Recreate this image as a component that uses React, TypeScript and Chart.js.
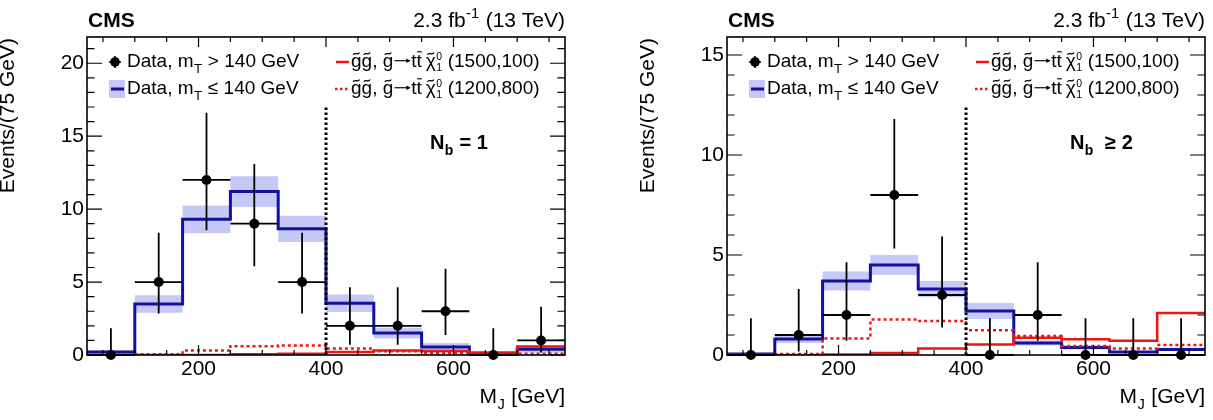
import { useEffect, useRef } from "react";
import { Chart, registerables } from "chart.js";

Chart.register(...registerables);

const FONT = '"Liberation Sans", Arial, Helvetica, sans-serif';
const BLUE = "#12129e";
const BAND = "#c6c8f5";
const RED = "#ee1515";

// M_J binning: 75 GeV bins from 25 to 775 GeV
const binEdges = [25, 100, 175, 250, 325, 400, 475, 550, 625, 700, 775];
const binCenters = [62.5, 137.5, 212.5, 287.5, 362.5, 437.5, 512.5, 587.5, 662.5, 737.5];
const xMajorTicks = [200, 400, 600];
const xMinorTicks = [50, 100, 150, 250, 300, 350, 450, 500, 550, 650, 700, 750];
const xMin = 25;
const xMax = 775;
const mjCut = 400;

// N_b = 1
const nb1Data = [0, 5, 12, 9, 5, 2, 2, 3, 0, 1];
const nb1DataLow = [0, 2.84, 8.56, 6.08, 2.84, 0.71, 0.71, 1.37, 0, 0.17];
const nb1DataHigh = [1.84, 8.38, 16.6, 13.1, 8.38, 4.64, 4.64, 5.92, 1.84, 3.3];
const nb1LowMt = [0.2, 3.5, 9.3, 11.2, 8.65, 3.55, 1.5, 0.55, 0.05, 0.4];
const nb1LowMtUnc = [0.1, 0.6, 0.95, 1.05, 0.9, 0.6, 0.37, 0.28, 0.05, 0.25];
const nb1Sig1500 = [0, 0, 0, 0.05, 0.08, 0.2, 0.3, 0.27, 0.17, 0.58];
const nb1Sig1200 = [0.02, 0.05, 0.3, 0.6, 0.65, 0.45, 0.25, 0.12, 0.05, 0.08];
const nb1YTicks = [0, 5, 10, 15, 20];
const nb1YMax = 21.8;
const nb1CutTop = 17;

// N_b >= 2
const nb2Data = [0, 1, 2, 8, 3, 0, 2, 0, 0, 0];
const nb2DataLow = [0, 0.17, 0.71, 5.32, 1.37, 0, 0.71, 0, 0, 0];
const nb2DataHigh = [1.84, 3.3, 4.64, 11.8, 5.92, 1.84, 4.64, 1.84, 1.84, 1.84];
const nb2LowMt = [0.05, 0.8, 3.7, 4.5, 3.3, 2.2, 0.6, 0.38, 0.15, 0.28];
const nb2LowMtUnc = [0.03, 0.2, 0.47, 0.5, 0.4, 0.4, 0.13, 0.1, 0.05, 0.08];
const nb2Sig1500 = [0, 0, 0.02, 0.1, 0.33, 0.53, 0.86, 0.79, 0.71, 2.1];
const nb2Sig1200 = [0, 0.05, 0.83, 1.77, 1.7, 1.24, 0.95, 0.45, 0.33, 0.5];
const nb2YTicks = [0, 5, 10, 15];
const nb2YMax = 15.9;
const nb2CutTop = 12.4;

type Seg = {
  t?: string;
  sub?: string;
  sup?: string;
  tilde?: boolean;
  bar?: boolean;
  arrow?: boolean;
};

type Panel = {
  data: number[];
  low: number[];
  high: number[];
  lowMt: number[];
  lowMtUnc: number[];
  sig1500: number[];
  sig1200: number[];
  yTicks: number[];
  yMax: number;
  cutTop: number;
  nbLabel: Seg[];
  padRight: number;
};

const fontStr = (size: number, bold: boolean) => `${bold ? "bold " : ""}${size}px ${FONT}`;

function segWidth(ctx: CanvasRenderingContext2D, s: Seg, size: number, bold: boolean) {
  if (s.arrow) return size * 0.95;
  if (s.t !== undefined) {
    ctx.font = fontStr(size, bold);
    return ctx.measureText(s.t).width;
  }
  const small = s.sup !== undefined && s.sub !== undefined ? size * 0.55 : size * 0.7;
  ctx.font = fontStr(small, bold);
  const w1 = s.sup !== undefined ? ctx.measureText(s.sup).width : 0;
  const w2 = s.sub !== undefined ? ctx.measureText(s.sub).width : 0;
  return Math.max(w1, w2) + size * 0.05;
}

function drawRich(
  ctx: CanvasRenderingContext2D,
  x: number,
  y: number,
  segs: Seg[],
  size: number,
  bold = false,
  align: "left" | "right" = "left"
) {
  ctx.save();
  ctx.textAlign = "left";
  ctx.textBaseline = "alphabetic";
  ctx.fillStyle = "#000";
  ctx.strokeStyle = "#000";
  const widths = segs.map((s) => segWidth(ctx, s, size, bold));
  const total = widths.reduce((a, b) => a + b, 0);
  let cx = align === "right" ? x - total : x;
  segs.forEach((s, i) => {
    const w = widths[i];
    if (s.arrow) {
      const ay = y - size * 0.33;
      const x0 = cx + size * 0.06;
      const x1 = cx + w - size * 0.04;
      ctx.lineWidth = size * 0.06;
      ctx.beginPath();
      ctx.moveTo(x0, ay);
      ctx.lineTo(x1 - size * 0.05, ay);
      ctx.stroke();
      ctx.beginPath();
      ctx.moveTo(x1, ay);
      ctx.lineTo(x1 - size * 0.22, ay - size * 0.12);
      ctx.lineTo(x1 - size * 0.22, ay + size * 0.12);
      ctx.closePath();
      ctx.fill();
    } else if (s.t !== undefined) {
      ctx.font = fontStr(size, bold);
      ctx.fillText(s.t, cx, y);
      if (s.tilde) {
        const mid = cx + w / 2;
        const ty = y - size * 0.7;
        const hw = size * 0.17;
        const a = size * 0.06;
        ctx.lineWidth = size * 0.065;
        ctx.beginPath();
        ctx.moveTo(mid - hw, ty + a);
        ctx.bezierCurveTo(mid - hw * 0.5, ty - a * 2.2, mid + hw * 0.5, ty + a * 2.2, mid + hw, ty - a);
        ctx.stroke();
      }
      if (s.bar) {
        const by = y - size * 0.8;
        ctx.lineWidth = size * 0.06;
        ctx.beginPath();
        ctx.moveTo(cx + w * 0.1, by);
        ctx.lineTo(cx + w * 1.0, by);
        ctx.stroke();
      }
    } else if (s.sup !== undefined && s.sub !== undefined) {
      ctx.font = fontStr(size * 0.55, bold);
      ctx.fillText(s.sup, cx + size * 0.03, y - size * 0.36);
      ctx.fillText(s.sub, cx + size * 0.03, y + size * 0.2);
    } else if (s.sup !== undefined) {
      ctx.font = fontStr(size * 0.7, bold);
      ctx.fillText(s.sup, cx + size * 0.02, y - size * 0.42);
    } else if (s.sub !== undefined) {
      ctx.font = fontStr(size * 0.7, bold);
      ctx.fillText(s.sub, cx + size * 0.02, y + size * 0.3);
    }
    cx += w;
  });
  ctx.restore();
}

const signalLabel = (mass: string): Seg[] => [
  { t: "g", tilde: true },
  { t: "g", tilde: true },
  { t: ", " },
  { t: "g", tilde: true },
  { arrow: true },
  { t: "t" },
  { t: "t", bar: true },
  { t: "\u2009" },
  { t: "\u03c7", tilde: true },
  { sup: "0", sub: "1" },
  { t: " " + mass },
];

const stepPoints = (vals: number[]) =>
  binEdges.map((x, i) => ({ x, y: vals[Math.min(i, vals.length - 1)] }));

function buildChart(canvas: HTMLCanvasElement, p: Panel) {
  const bandHi = p.lowMt.map((v, i) => v + p.lowMtUnc[i]);
  const bandLo = p.lowMt.map((v, i) => Math.max(0, v - p.lowMtUnc[i]));

  const decor = {
    id: "hepDecor",
    afterDatasetDraw(chart: any, args: any) {
      if (args.index !== 1) return;
      const ctx: CanvasRenderingContext2D = chart.ctx;
      const xs = chart.scales.x;
      const ys = chart.scales.y;
      ctx.save();
      // selection line at M_J = 400 GeV
      ctx.strokeStyle = "#000";
      ctx.lineWidth = 3;
      ctx.setLineDash([2.5, 2.5]);
      ctx.beginPath();
      ctx.moveTo(xs.getPixelForValue(mjCut), ys.getPixelForValue(0));
      ctx.lineTo(xs.getPixelForValue(mjCut), ys.getPixelForValue(p.cutTop));
      ctx.stroke();
      ctx.setLineDash([]);
      // data error bars
      ctx.lineWidth = 1.8;
      p.data.forEach((v, i) => {
        const px = xs.getPixelForValue(binCenters[i]);
        const py = ys.getPixelForValue(v);
        ctx.beginPath();
        ctx.moveTo(px, ys.getPixelForValue(p.low[i]));
        ctx.lineTo(px, ys.getPixelForValue(p.high[i]));
        ctx.moveTo(xs.getPixelForValue(binEdges[i]), py);
        ctx.lineTo(xs.getPixelForValue(binEdges[i + 1]), py);
        ctx.stroke();
      });
      ctx.restore();
    },
    afterDraw(chart: any) {
      const ctx: CanvasRenderingContext2D = chart.ctx;
      const a = chart.chartArea;
      const xs = chart.scales.x;
      const ys = chart.scales.y;
      ctx.save();
      ctx.strokeStyle = "#000";
      ctx.lineWidth = 1.2;
      // inward ticks on all four sides
      const xTick = (v: number, len: number) => {
        const px = xs.getPixelForValue(v);
        ctx.beginPath();
        ctx.moveTo(px, a.bottom);
        ctx.lineTo(px, a.bottom - len);
        ctx.moveTo(px, a.top);
        ctx.lineTo(px, a.top + len);
        ctx.stroke();
      };
      xMajorTicks.forEach((v) => xTick(v, 10));
      xMinorTicks.forEach((v) => xTick(v, 5));
      const yTick = (v: number, len: number) => {
        const py = ys.getPixelForValue(v);
        ctx.beginPath();
        ctx.moveTo(a.left, py);
        ctx.lineTo(a.left + len, py);
        ctx.moveTo(a.right, py);
        ctx.lineTo(a.right - len, py);
        ctx.stroke();
      };
      for (let v = 0; v <= p.yMax; v += 1) {
        yTick(v, p.yTicks.includes(v) ? 15 : 7.5);
      }
      // frame
      ctx.lineWidth = 1.6;
      ctx.strokeRect(a.left, a.top, a.right - a.left, a.bottom - a.top);

      // header
      drawRich(ctx, a.left + 1, 27, [{ t: "CMS" }], 21, true);
      drawRich(ctx, a.right, 27, [{ t: "2.3 fb" }, { sup: "-1" }, { t: " (13 TeV)" }], 21, false, "right");

      // axis titles
      drawRich(ctx, a.right, 403, [{ t: "M" }, { sub: "J" }, { t: " [GeV]" }], 21, false, "right");
      ctx.save();
      ctx.translate(a.left - 73, a.top + 1);
      ctx.rotate(-Math.PI / 2);
      drawRich(ctx, 0, 0, [{ t: "Events/(75 GeV)" }], 21, false, "right");
      ctx.restore();

      // legend
      const L = a.left;
      const r1 = 62;
      const r2 = 89;
      ctx.fillStyle = "#000";
      ctx.lineWidth = 1.6;
      ctx.beginPath();
      ctx.moveTo(L + 22, r1);
      ctx.lineTo(L + 34, r1);
      ctx.moveTo(L + 28, r1 - 6);
      ctx.lineTo(L + 28, r1 + 6);
      ctx.stroke();
      ctx.beginPath();
      ctx.arc(L + 28, r1, 4.8, 0, Math.PI * 2);
      ctx.fill();
      drawRich(ctx, L + 40, r1 + 5, [{ t: "Data, m" }, { sub: "T" }, { t: " > 140 GeV" }], 19);

      ctx.fillStyle = BAND;
      ctx.fillRect(L + 22, r2 - 9, 16, 18);
      ctx.strokeStyle = BLUE;
      ctx.lineWidth = 3;
      ctx.beginPath();
      ctx.moveTo(L + 24, r2);
      ctx.lineTo(L + 37, r2);
      ctx.stroke();
      drawRich(ctx, L + 40, r2 + 5, [{ t: "Data, m" }, { sub: "T" }, { t: " \u2264 140 GeV" }], 19);

      ctx.strokeStyle = RED;
      ctx.lineWidth = 2.5;
      ctx.beginPath();
      ctx.moveTo(L + 249, r1);
      ctx.lineTo(L + 262, r1);
      ctx.stroke();
      ctx.setLineDash([2.5, 2.5]);
      ctx.beginPath();
      ctx.moveTo(L + 248, r2);
      ctx.lineTo(L + 263, r2);
      ctx.stroke();
      ctx.setLineDash([]);
      drawRich(ctx, L + 264, r1 + 5, signalLabel("(1500,100)"), 19);
      drawRich(ctx, L + 264, r2 + 5, signalLabel("(1200,800)"), 19);

      // b-tag multiplicity label
      drawRich(ctx, L + 343, 149, p.nbLabel, 20, true);
      ctx.restore();
    },
  };

  return new Chart(canvas, {
    type: "line",
    data: {
      datasets: [
        {
          type: "scatter",
          data: binCenters.map((x, i) => ({ x, y: p.data[i] })),
          pointRadius: 5,
          pointBackgroundColor: "#000",
          pointBorderWidth: 0,
          showLine: false,
          clip: false,
          order: 0,
        } as any,
        {
          data: stepPoints(p.sig1200),
          stepped: true,
          borderColor: RED,
          borderWidth: 2.5,
          borderDash: [3, 3],
          pointRadius: 0,
          fill: false,
          order: 1,
        },
        {
          data: stepPoints(p.sig1500),
          stepped: true,
          borderColor: RED,
          borderWidth: 2.5,
          pointRadius: 0,
          fill: false,
          order: 2,
        },
        {
          data: stepPoints(p.lowMt),
          stepped: true,
          borderColor: BLUE,
          borderWidth: 3,
          pointRadius: 0,
          fill: false,
          order: 3,
        },
        {
          data: stepPoints(bandHi),
          stepped: true,
          borderColor: "rgba(0,0,0,0)",
          borderWidth: 1,
          backgroundColor: BAND,
          pointRadius: 0,
          fill: "+1",
          order: 4,
        },
        {
          data: stepPoints(bandLo),
          stepped: true,
          borderColor: "rgba(0,0,0,0)",
          borderWidth: 1,
          pointRadius: 0,
          fill: false,
          order: 5,
        },
      ],
    },
    options: {
      responsive: false,
      animation: false,
      events: [],
      layout: { padding: { left: 0, top: 37, right: p.padRight, bottom: 0 } },
      plugins: {
        legend: { display: false },
        tooltip: { enabled: false },
        title: { display: false },
      },
      scales: {
        x: {
          type: "linear",
          min: xMin,
          max: xMax,
          grid: { display: false, drawTicks: false },
          border: { display: false },
          afterBuildTicks: (s: any) => {
            s.ticks = xMajorTicks.map((v) => ({ value: v }));
          },
          afterFit: (s: any) => {
            s.height = 65;
          },
          ticks: {
            font: { family: FONT, size: 21 },
            color: "#000",
            padding: 2,
            maxRotation: 0,
            autoSkip: false,
            callback: (v: any) => String(v),
          },
        },
        y: {
          type: "linear",
          min: 0,
          max: p.yMax,
          grid: { display: false, drawTicks: false },
          border: { display: false },
          afterBuildTicks: (s: any) => {
            s.ticks = p.yTicks.map((v) => ({ value: v }));
          },
          afterFit: (s: any) => {
            s.width = 87;
          },
          ticks: {
            font: { family: FONT, size: 21 },
            color: "#000",
            padding: 3,
            autoSkip: false,
            callback: (v: any) => String(v),
          },
        },
      },
    },
    plugins: [decor],
  } as any);
}

function PanelChart({ panel, width, left }: { panel: Panel; width: number; left: number }) {
  const ref = useRef<HTMLCanvasElement | null>(null);
  useEffect(() => {
    if (!ref.current) return;
    const chart = buildChart(ref.current, panel);
    return () => chart.destroy();
  }, [panel]);
  return (
    <canvas
      ref={ref}
      width={width}
      height={420}
      style={{ position: "absolute", left, top: 0, width, height: 420 }}
    />
  );
}

const panelNb1: Panel = {
  data: nb1Data,
  low: nb1DataLow,
  high: nb1DataHigh,
  lowMt: nb1LowMt,
  lowMtUnc: nb1LowMtUnc,
  sig1500: nb1Sig1500,
  sig1200: nb1Sig1200,
  yTicks: nb1YTicks,
  yMax: nb1YMax,
  cutTop: nb1CutTop,
  nbLabel: [{ t: "N" }, { sub: "b" }, { t: " = 1" }],
  padRight: 75,
};

const panelNb2: Panel = {
  data: nb2Data,
  low: nb2DataLow,
  high: nb2DataHigh,
  lowMt: nb2LowMt,
  lowMtUnc: nb2LowMtUnc,
  sig1500: nb2Sig1500,
  sig1200: nb2Sig1200,
  yTicks: nb2YTicks,
  yMax: nb2YMax,
  cutTop: nb2CutTop,
  nbLabel: [{ t: "N" }, { sub: "b" }, { t: "  \u2265 2" }],
  padRight: 8,
};

export default function App() {
  return (
    <div
      style={{
        position: "fixed",
        left: 0,
        top: 0,
        width: 1213,
        height: 420,
        background: "#fff",
        overflow: "hidden",
      }}
    >
      <PanelChart panel={panelNb1} width={640} left={0} />
      <PanelChart panel={panelNb2} width={573} left={640} />
    </div>
  );
}
